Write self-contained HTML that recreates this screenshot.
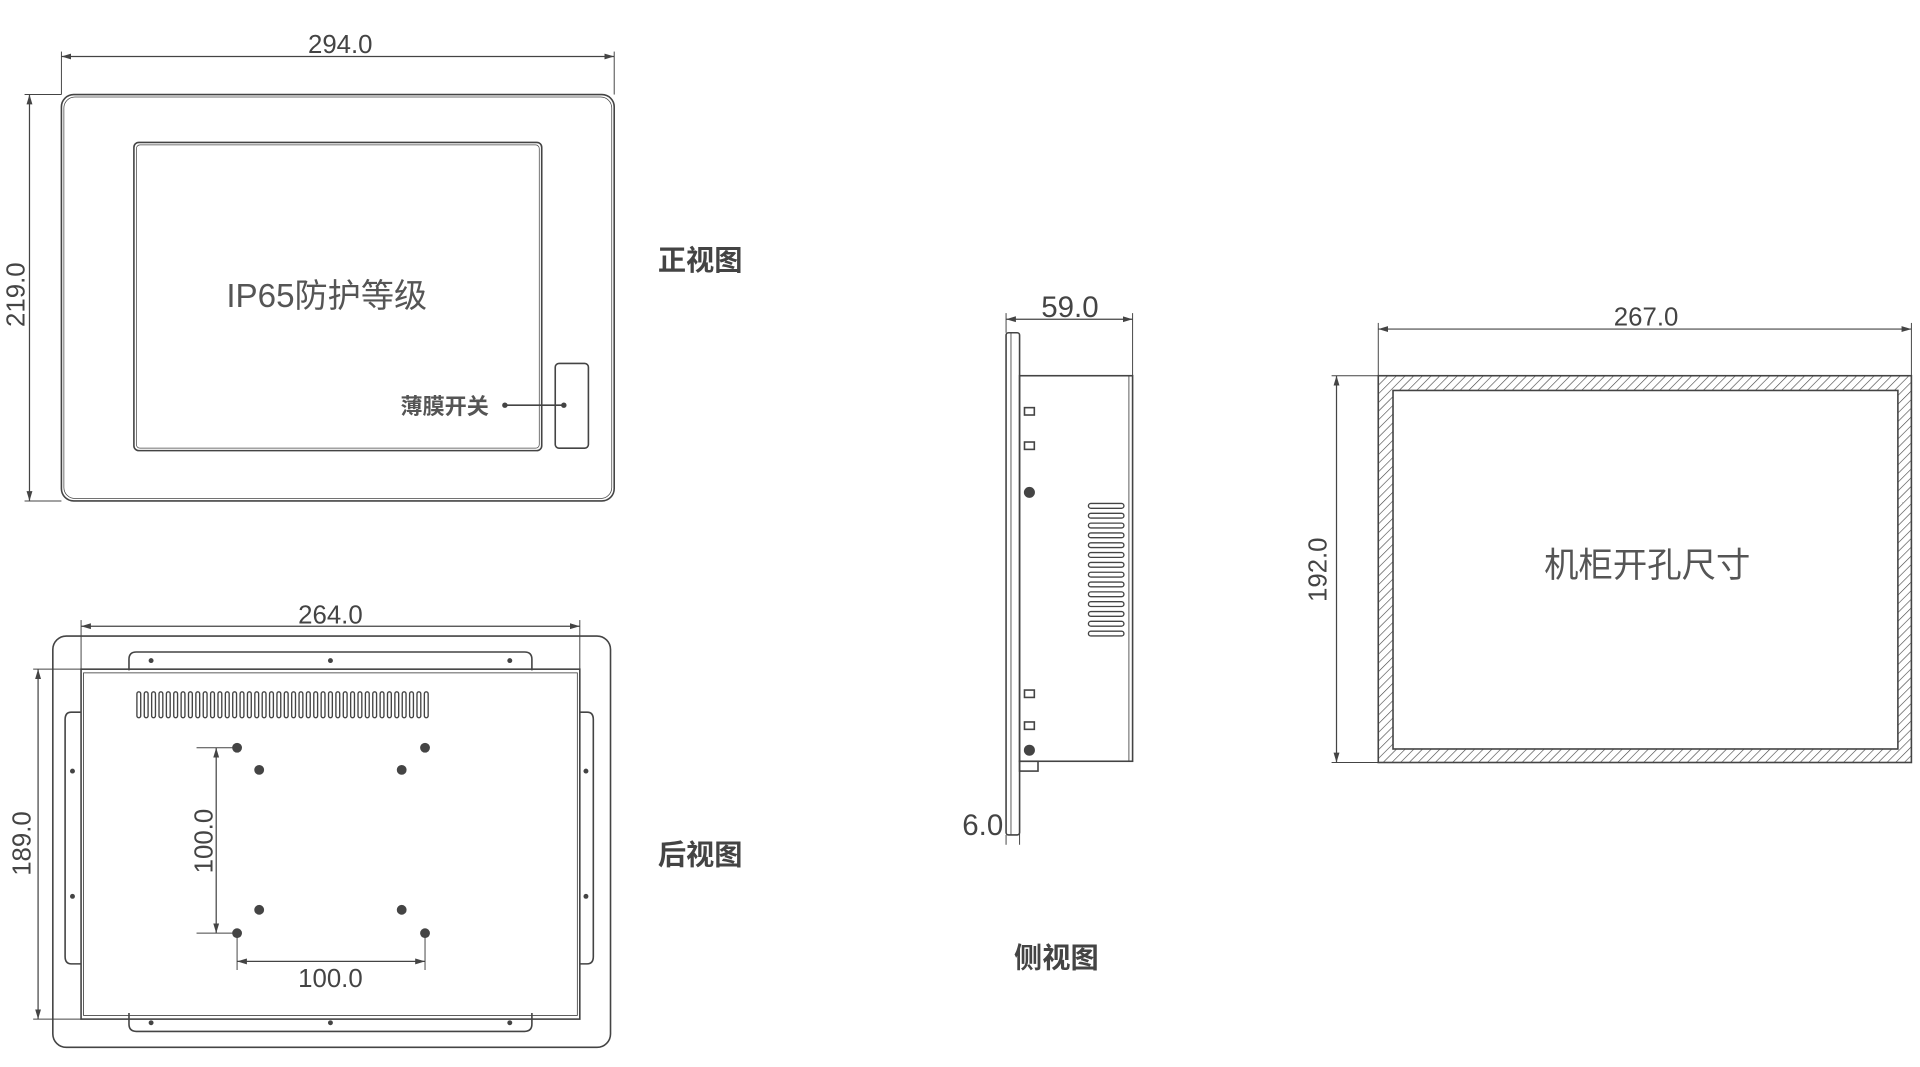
<!DOCTYPE html>
<html><head><meta charset="utf-8"><style>html,body{margin:0;padding:0;background:#fff}svg{display:block}</style></head><body>
<svg width="1920" height="1067" viewBox="0 0 1563 869" preserveAspectRatio="none" xmlns="http://www.w3.org/2000/svg" font-family="Liberation Sans, Noto Sans CJK SC, sans-serif">
<defs>
<marker id="a" viewBox="0 0 10 6" refX="10" refY="3" markerWidth="8" markerHeight="5" orient="auto-start-reverse"><path d="M0,0L10,3L0,6z" fill="#444"/></marker>
<pattern id="h" width="5" height="5" patternUnits="userSpaceOnUse" patternTransform="rotate(45)"><line x1="0" y1="0" x2="0" y2="5" stroke="#444" stroke-width="1"/></pattern>
</defs>
<g stroke="#444" fill="none" stroke-width="1.3">
<rect x="50" y="77" width="450" height="331" rx="10"/>
<rect x="52" y="79" width="446" height="327" rx="9" stroke-width="0.6"/>
<rect x="109" y="116" width="332" height="251" rx="4"/>
<rect x="111" y="118" width="328" height="247" rx="3" stroke-width="0.6"/>
<rect x="452" y="296" width="27" height="69" rx="3"/>
<line x1="411" y1="330" x2="459" y2="330"/>
<line x1="50" y1="46" x2="500" y2="46" marker-start="url(#a)" marker-end="url(#a)" stroke-width="1"/>
<line x1="50" y1="42" x2="50" y2="77" stroke-width="0.8"/><line x1="500" y1="42" x2="500" y2="77" stroke-width="0.8"/>
<line x1="24" y1="77" x2="24" y2="408" marker-start="url(#a)" marker-end="url(#a)" stroke-width="1"/>
<line x1="20" y1="77" x2="50" y2="77" stroke-width="0.8"/><line x1="20" y1="408" x2="50" y2="408" stroke-width="0.8"/>
<rect x="43" y="518" width="454" height="335" rx="11"/>
<path d="M105,546V537Q105,531 111,531H427Q433,531 433,537V546"/>
<path d="M105,825V834Q105,840 111,840H427Q433,840 433,834V825"/>
<path d="M66,580H58Q53,580 53,586V779Q53,785 58,785H66"/>
<path d="M472,580H478Q483,580 483,586V779Q483,785 478,785H472"/>
<rect x="66" y="545" width="406" height="285"/>
<rect x="68" y="548" width="402" height="279" stroke-width="0.7"/>
<line x1="66" y1="510" x2="472" y2="510" marker-start="url(#a)" marker-end="url(#a)" stroke-width="1"/>
<line x1="66" y1="505" x2="66" y2="545" stroke-width="0.8"/><line x1="472" y1="505" x2="472" y2="545" stroke-width="0.8"/>
<line x1="31" y1="545" x2="31" y2="830" marker-start="url(#a)" marker-end="url(#a)" stroke-width="1"/>
<line x1="27" y1="545" x2="66" y2="545" stroke-width="0.8"/><line x1="27" y1="830" x2="66" y2="830" stroke-width="0.8"/>
<line x1="176" y1="609" x2="176" y2="760" marker-start="url(#a)" marker-end="url(#a)" stroke-width="1"/>
<line x1="160" y1="609" x2="193" y2="609" stroke-width="0.8"/><line x1="160" y1="760" x2="193" y2="760" stroke-width="0.8"/>
<line x1="193" y1="783" x2="346" y2="783" marker-start="url(#a)" marker-end="url(#a)" stroke-width="1"/>
<line x1="193" y1="760" x2="193" y2="790" stroke-width="0.8"/><line x1="346" y1="760" x2="346" y2="790" stroke-width="0.8"/>
<rect x="819" y="271" width="11" height="409" rx="2"/>
<line x1="823" y1="271" x2="823" y2="680" stroke-width="0.7"/>
<rect x="830" y="306" width="92" height="314"/>
<line x1="919" y1="306" x2="919" y2="620" stroke-width="0.7"/>
<rect x="830" y="620" width="15" height="8"/>
<line x1="819" y1="260" x2="922" y2="260" marker-start="url(#a)" marker-end="url(#a)" stroke-width="1"/>
<line x1="819" y1="255" x2="819" y2="271" stroke-width="0.8"/><line x1="922" y1="255" x2="922" y2="306" stroke-width="0.8"/>
<line x1="819" y1="680" x2="819" y2="688" stroke-width="0.8"/><line x1="830" y1="628" x2="830" y2="688" stroke-width="0.8"/>
<rect x="834" y="332" width="8" height="6"/><rect x="834" y="360" width="8" height="6"/>
<rect x="834" y="562" width="8" height="6"/><rect x="834" y="588" width="8" height="6"/>
<rect x="1122" y="306" width="434" height="315" fill="url(#h)"/>
<rect x="1134" y="318" width="411" height="292" fill="#fff"/>
<line x1="1122" y1="268" x2="1556" y2="268" marker-start="url(#a)" marker-end="url(#a)" stroke-width="1"/>
<line x1="1122" y1="263" x2="1122" y2="306" stroke-width="0.8"/><line x1="1556" y1="263" x2="1556" y2="306" stroke-width="0.8"/>
<line x1="1088" y1="306" x2="1088" y2="621" marker-start="url(#a)" marker-end="url(#a)" stroke-width="1"/>
<line x1="1084" y1="306" x2="1122" y2="306" stroke-width="0.8"/><line x1="1084" y1="621" x2="1122" y2="621" stroke-width="0.8"/>
</g>
<g fill="#444">
<circle cx="411" cy="330" r="2.2"/><circle cx="459" cy="330" r="2.2"/>
<circle cx="123" cy="538" r="2"/><circle cx="269" cy="538" r="2"/><circle cx="415" cy="538" r="2"/>
<circle cx="123" cy="833" r="2"/><circle cx="269" cy="833" r="2"/><circle cx="415" cy="833" r="2"/>
<circle cx="59" cy="628" r="2"/><circle cx="59" cy="730" r="2"/><circle cx="477" cy="628" r="2"/><circle cx="477" cy="730" r="2"/>
<circle cx="193" cy="609" r="4"/><circle cx="346" cy="609" r="4"/><circle cx="211" cy="627" r="4"/><circle cx="327" cy="627" r="4"/>
<circle cx="211" cy="741" r="4"/><circle cx="327" cy="741" r="4"/><circle cx="193" cy="760" r="4"/><circle cx="346" cy="760" r="4"/>
<circle cx="838" cy="401" r="4.5"/><circle cx="838" cy="611" r="4.5"/>
</g>
<g stroke="#444" fill="none" stroke-width="1">
<path d="M113,565v18M119,565v18M125,565v18M131,565v18M137,565v18M143,565v18M149,565v18M155,565v18M161,565v18M167,565v18M173,565v18M179,565v18M185,565v18M191,565v18M197,565v18M203,565v18M209,565v18M215,565v18M221,565v18M227,565v18M233,565v18M239,565v18M245,565v18M251,565v18M257,565v18M263,565v18M269,565v18M275,565v18M281,565v18M287,565v18M293,565v18M299,565v18M305,565v18M311,565v18M317,565v18M323,565v18M329,565v18M335,565v18M341,565v18M347,565v18" stroke-width="4.2" stroke-linecap="round"/>
<path d="M113,565v18M119,565v18M125,565v18M131,565v18M137,565v18M143,565v18M149,565v18M155,565v18M161,565v18M167,565v18M173,565v18M179,565v18M185,565v18M191,565v18M197,565v18M203,565v18M209,565v18M215,565v18M221,565v18M227,565v18M233,565v18M239,565v18M245,565v18M251,565v18M257,565v18M263,565v18M269,565v18M275,565v18M281,565v18M287,565v18M293,565v18M299,565v18M305,565v18M311,565v18M317,565v18M323,565v18M329,565v18M335,565v18M341,565v18M347,565v18" stroke="#fff" stroke-width="2" stroke-linecap="round"/>
<path d="M888,412h25M888,420h25M888,428h25M888,436h25M888,444h25M888,452h25M888,460h25M888,468h25M888,476h25M888,484h25M888,492h25M888,500h25M888,508h25M888,516h25" stroke-width="5" stroke-linecap="round"/>
<path d="M888,412h25M888,420h25M888,428h25M888,436h25M888,444h25M888,452h25M888,460h25M888,468h25M888,476h25M888,484h25M888,492h25M888,500h25M888,508h25M888,516h25" stroke="#fff" stroke-width="2.8" stroke-linecap="round"/>
</g>
<g fill="#444" font-size="21">
<text x="277" y="43" text-anchor="middle">294.0</text>
<text transform="translate(20,240) rotate(-90)" text-anchor="middle">219.0</text>
<text x="266" y="250" text-anchor="middle" font-size="27" fill="#555">IP65防护等级</text>
<text x="362" y="337" text-anchor="middle" font-size="18" font-weight="bold" fill="#555">薄膜开关</text>
<text x="570" y="220" text-anchor="middle" font-size="23" font-weight="bold">正视图</text>
<text x="570" y="704" text-anchor="middle" font-size="23" font-weight="bold">后视图</text>
<text x="860" y="788" text-anchor="middle" font-size="23" font-weight="bold">侧视图</text>
<text x="269" y="508" text-anchor="middle">264.0</text>
<text transform="translate(25,687) rotate(-90)" text-anchor="middle">189.0</text>
<text transform="translate(173,685) rotate(-90)" text-anchor="middle">100.0</text>
<text x="269" y="804" text-anchor="middle">100.0</text>
<text x="871" y="258" text-anchor="middle" font-size="24">59.0</text>
<text x="800" y="680" text-anchor="middle" font-size="24">6.0</text>
<text x="1340" y="265" text-anchor="middle">267.0</text>
<text transform="translate(1080,464) rotate(-90)" text-anchor="middle">192.0</text>
<text x="1341" y="470" text-anchor="middle" font-size="28" fill="#555">机柜开孔尺寸</text>
</g>
</svg>
</body></html>
